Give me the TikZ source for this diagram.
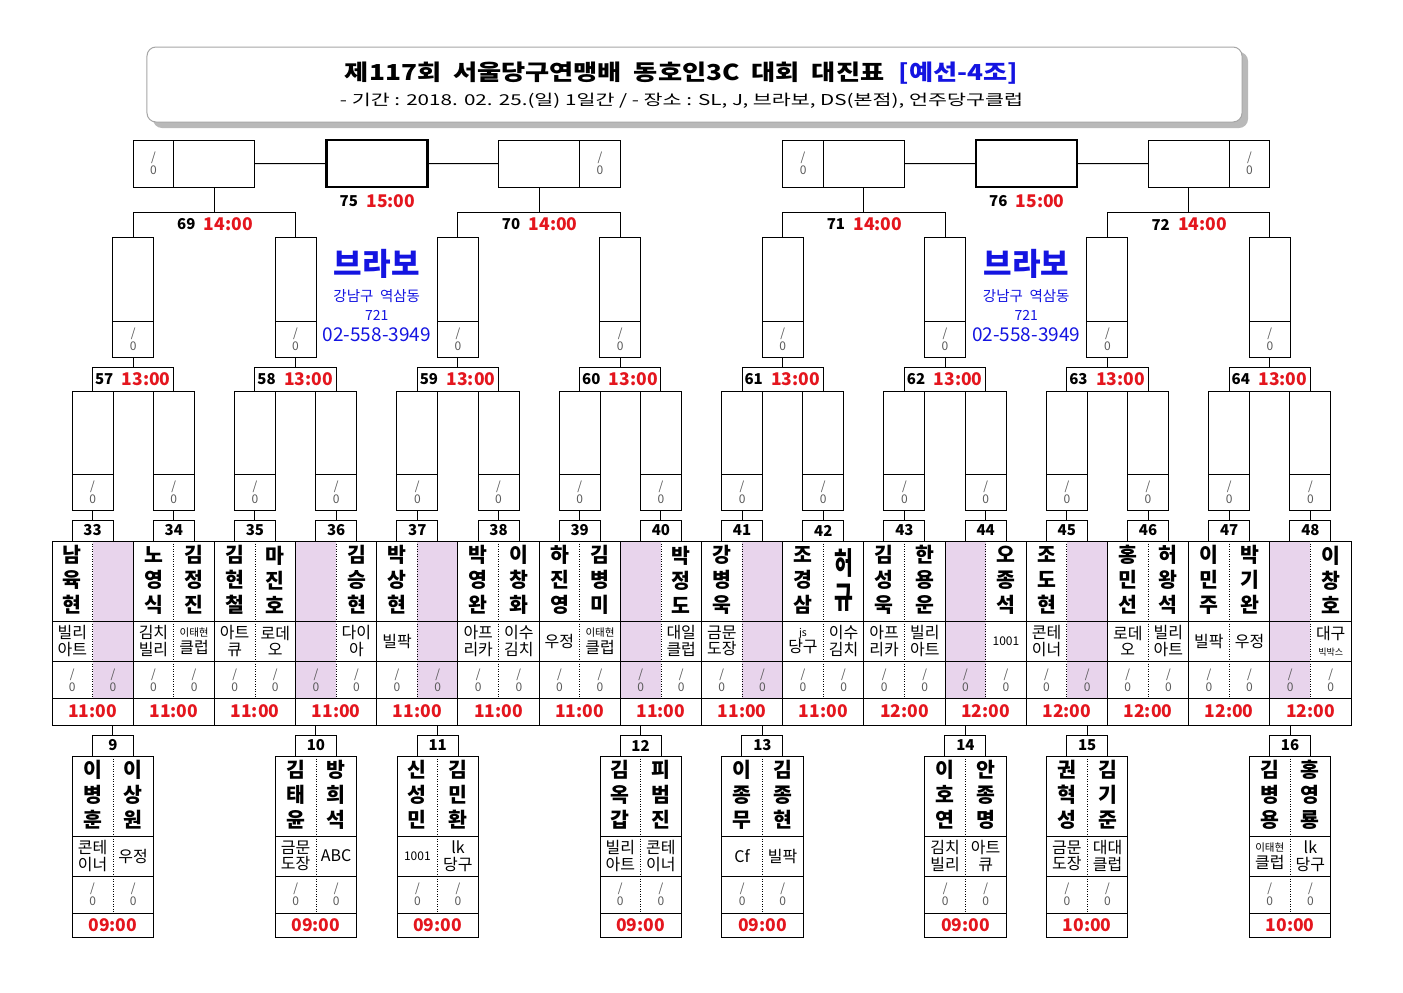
\documentclass[tikz,border=0pt]{standalone}
\usepackage{fontspec}
\setmainfont{Noto Sans CJK KR}
\usepackage{graphicx}
\usetikzlibrary{calc}
\definecolor{myred}{RGB}{228,22,30}
\definecolor{myblue}{RGB}{20,20,225}
\definecolor{mypink}{RGB}{232,212,236}
\definecolor{mygray}{RGB}{90,90,90}
\newcommand\fsz[2]{\fontsize{#1bp}{#2bp}\selectfont}
\newcommand\smtxt[1]{{\fsz{10.5}{11}#1}}
\newcommand\tinytxt[1]{{\fsz{9}{10}#1}}
\newcommand\vstr[1]{\scalebox{1}[1.5]{#1}}
\begin{document}
\begin{tikzpicture}[x=1bp,y=-1bp,
  ln/.style={line width=1bp},
  dotline/.style={line width=0.8bp, dash pattern=on 1bp off 1.5bp},
  bx/.style={draw, line width=1bp, inner sep=0pt, outer sep=0pt, fill=white},
  txt/.style={inner sep=0pt, outer sep=0pt, align=center},
  namef/.style={txt, font=\fsz{20.5}{25}\bfseries},
  clubf/.style={txt, font=\fsz{16}{16.5}},
  scoref/.style={txt, font=\fsz{12}{13}, text=mygray},
  timef/.style={txt, font=\fsz{17.5}{19}\bfseries, text=myred},
  numf/.style={txt, font=\fsz{15}{16}\bfseries},
  bluef/.style={txt, text=myblue}]
\useasboundingbox (0,0) rectangle (1403,992);
\fill[white] (0,0) rectangle (1403,992);

% ---------- title ----------
\fill[gray!55, rounded corners=9bp] (153,52) rectangle (1248,128);
\node[draw=gray!70, fill=white, rounded corners=9bp, minimum width=1095bp, minimum height=75bp, line width=1bp] (tbox) at (694.5,84.5) {};
\node[txt] (title) at (681.5,73) {\resizebox{673bp}{\height}{\fsz{22}{24}\bfseries 제117회\hspace{10bp}서울당구연맹배\hspace{10bp}동호인3C\hspace{10bp}대회\hspace{10bp}대진표\hspace{12bp}\textcolor{myblue}{[예선-4조]}}};
\node[txt] (subtitle) at (681.5,101) {\resizebox{683bp}{\height}{\fsz{15}{16}- 기간 : 2018. 02. 25.(일) 1일간 / - 장소 : SL, J, 브라보, DS(본점), 언주당구클럽}};

% ---------- round 2 boxes and 57-64 labels ----------
\foreach \j in {0,...,7}{
  \pgfmathsetmacro\bX{52+(2*\j+1)*81.1875}
  \pgfmathtruncatemacro\lnum{57+\j}
  \node[bx, minimum width=41bp, minimum height=120bp, anchor=north] (b\j) at (\bX,237) {};
  \draw[ln] (\bX-20.5,321) -- (\bX+20.5,321);
  \node[scoref] (bs\j) at (\bX,339) {/\\0};
  \node[bx, minimum width=81.19bp, minimum height=24bp, anchor=south] (L\j) at (\bX,391) {};
  \node[numf] (Ln\j) at (\bX-29,379.5) {\lnum};
  \node[timef] (Lt\j) at (\bX+13,379.5) {13:00};
  \draw[ln] (b\j.south) -- (L\j.north);
}

% ---------- round 1 boxes and 33-48 ----------
\foreach \k in {0,...,15}{
  \pgfmathsetmacro\cx{52+\k*81.1875+40.59}
  \pgfmathtruncatemacro\num{33+\k}
  \node[bx, minimum width=41bp, minimum height=119bp, anchor=north] (a\k) at (\cx,391) {};
  \draw[ln] (\cx-20.5,474) -- (\cx+20.5,474);
  \node[scoref] (as\k) at (\cx,492) {/\\0};
  \node[bx, numf, minimum width=41bp, minimum height=21bp, anchor=south] (n\k) at (\cx,541) {\num};
  \draw[ln] (a\k.south) -- (n\k.north);
}

% ---------- brackets 69-72 ----------
\foreach \p/\q/\r in {0/1/69, 2/3/70, 4/5/71, 6/7/72}{
  \draw[ln] (b\p.north) -- ++(0,-25) -| (b\q.north);
  \coordinate (k\r) at ($(b\p.north)!0.5!(b\q.north)+(0,-25)$);
  \node[numf] (kn\r) at ($(k\r)+(-28,12.5)$) {\r};
  \node[timef] (kt\r) at ($(k\r)+(14,12.5)$) {14:00};
}

% ---------- finals 75, 76 ----------
\foreach \g/\p/\q/\f in {0/69/70/75, 1/71/72/76}{
  \node[bx, minimum width=81bp, minimum height=47bp] (fL\g) at ($(k\p)+(0,-48.5)$) {};
  \node[bx, scoref, minimum width=40.6bp, minimum height=47bp, anchor=east] (fsL\g) at (fL\g.west) {/\\0};
  \node[bx, minimum width=81bp, minimum height=47bp] (fR\g) at ($(k\q)+(0,-48.5)$) {};
  \node[bx, scoref, minimum width=40.6bp, minimum height=47bp, anchor=west] (fsR\g) at (fR\g.east) {/\\0};
  \node[bx, line width=2.5bp, minimum width=101bp, minimum height=47bp] (C\g) at ($(fL\g)!0.5!(fR\g)$) {};
  \draw[ln] (fL\g.south) -- (k\p);
  \draw[ln] (fR\g.south) -- (k\q);
  \draw[ln] (fL\g.east) -- (C\g.west);
  \draw[ln] (C\g.east) -- (fR\g.west);
  \node[numf] (Cn\g) at ($(C\g.south)+(-28,14)$) {\f};
  \node[timef] (Ct\g) at ($(C\g.south)+(14,14)$) {15:00};
  \node[bluef, font=\fsz{31}{33}\bfseries] (br\g) at ($(C\g)+(0,100)$) {브라보};
  \node[bluef, font=\fsz{14.5}{16}] (ad\g) at ($(C\g)+(0,132.5)$) {강남구\ \ 역삼동};
  \node[bluef, font=\fsz{14}{16}] (ae\g) at ($(C\g)+(0,151.5)$) {721};
  \node[bluef, font=\fsz{19}{21}] (ph\g) at ($(C\g)+(0,171.5)$) {02-558-3949};
}

% ---------- main table ----------
\foreach \k/\nmA/\nmB/\clA/\clB/\pk/\tmv in {
 0/{남\\육\\현}/{}/{빌리\\아트}/{}/2/11:00,
 1/{노\\영\\식}/{김\\정\\진}/{김치\\빌리}/{\smtxt{이태현}\\클럽}/0/11:00,
 2/{김\\현\\철}/{마\\진\\호}/{아트\\큐}/{로데\\오}/0/11:00,
 3/{}/{김\\승\\현}/{}/{다이\\아}/1/11:00,
 4/{박\\상\\현}/{}/{빌팍}/{}/2/11:00,
 5/{박\\영\\완}/{이\\창\\화}/{아프\\리카}/{이수\\김치}/0/11:00,
 6/{하\\진\\영}/{김\\병\\미}/{우정}/{\smtxt{이태현}\\클럽}/0/11:00,
 7/{}/{박\\정\\도}/{}/{대일\\클럽}/1/11:00,
 8/{강\\병\\욱}/{}/{금문\\도장}/{}/2/11:00,
 9/{조\\경\\삼}/{}/{\smtxt{js}\\당구}/{이수\\김치}/0/11:00,
 10/{김\\성\\욱}/{한\\용\\운}/{아프\\리카}/{빌리\\아트}/0/12:00,
 11/{}/{오\\종\\석}/{}/{\fsz{12}{13}1001}/1/12:00,
 12/{조\\도\\현}/{}/{콘테\\이너}/{}/2/12:00,
 13/{홍\\민\\선}/{허\\왕\\석}/{로데\\오}/{빌리\\아트}/0/12:00,
 14/{이\\민\\주}/{박\\기\\완}/{빌팍}/{우정}/0/12:00,
 15/{}/{이\\창\\호}/{}/{대구\\\tinytxt{빅박스}}/1/12:00}{
  \pgfmathsetmacro\xl{52+\k*81.1875}
  \pgfmathsetmacro\cx{\xl+40.59}
  \pgfmathsetmacro\lcx{\xl+20.3}
  \pgfmathsetmacro\rcx{\xl+60.9}
  \ifnum\pk=1 \fill[mypink] (\xl,541) rectangle (\cx,698); \fi
  \ifnum\pk=2 \fill[mypink] (\cx,541) rectangle (\xl+81.19,698); \fi
  \node[namef] (nmL\k) at (\lcx,580) {\nmA};
  \node[namef] (nmR\k) at (\rcx,580) {\nmB};
  \node[clubf] (clL\k) at (\lcx,641) {\clA};
  \node[clubf] (clR\k) at (\rcx,641) {\clB};
  \node[scoref] (scL\k) at (\lcx,680) {/\\0};
  \node[scoref] (scR\k) at (\rcx,680) {/\\0};
  \node[timef] (tm\k) at (\cx,711.5) {\tmv};
  \draw[dotline] (\cx,541) -- (\cx,698);
}
% two-letter name (stretched)
\node[namef] (hA) at (52+9*81.1875+60.9,563) {\vstr{허}};
\node[namef] (hB) at (52+9*81.1875+60.9,597.5) {\vstr{규}};
\draw[ln] (52,541) rectangle (1351,725);
\foreach \yy in {621,661,698} \draw[ln] (52,\yy) -- (1351,\yy);
\foreach \k in {1,...,15} \draw[ln] ({52+\k*81.1875},541) -- ++(0,184);

% ---------- preliminary boxes 9-16 ----------
\foreach \qn/\bX/\nmA/\nmB/\clA/\clB/\tmv in {
 9/112.9/{이\\병\\훈}/{이\\상\\원}/{콘테\\이너}/{우정}/09:00,
 10/315.9/{김\\태\\윤}/{방\\희\\석}/{금문\\도장}/{ABC}/09:00,
 11/437.65/{신\\성\\민}/{김\\민\\환}/{\fsz{12}{13}1001}/{lk\\당구}/09:00,
 12/640.6/{김\\옥\\갑}/{피\\범\\진}/{빌리\\아트}/{콘테\\이너}/09:00,
 13/762.4/{이\\종\\무}/{김\\종\\현}/{Cf}/{빌팍}/09:00,
 14/965.4/{이\\호\\연}/{안\\종\\명}/{김치\\빌리}/{아트\\큐}/09:00,
 15/1087.2/{권\\혁\\성}/{김\\기\\준}/{금문\\도장}/{대대\\클럽}/10:00,
 16/1290.1/{김\\병\\용}/{홍\\영\\룡}/{\smtxt{이태현}\\클럽}/{lk\\당구}/10:00}{
  \coordinate (tb\qn) at (\bX,725);
  \node[bx, numf, minimum width=41bp, minimum height=21bp, anchor=north] (q\qn) at (\bX,735) {\qn};
  \draw[ln] (tb\qn) -- (q\qn.north);
  \node[bx, minimum width=81.2bp, minimum height=181bp, anchor=north] (Q\qn) at (\bX,756) {};
  \foreach \yy in {836,876,913} \draw[ln] (\bX-40.6,\yy) -- (\bX+40.6,\yy);
  \draw[dotline] (\bX,756) -- (\bX,913);
  \node[namef] (pL\qn) at (\bX-20.3,795) {\nmA};
  \node[namef] (pR\qn) at (\bX+20.3,795) {\nmB};
  \node[clubf] (pcL\qn) at (\bX-20.3,856) {\clA};
  \node[clubf] (pcR\qn) at (\bX+20.3,856) {\clB};
  \node[scoref] (psL\qn) at (\bX-20.3,894.5) {/\\0};
  \node[scoref] (psR\qn) at (\bX+20.3,894.5) {/\\0};
  \node[timef] (pt\qn) at (\bX,925) {\tmv};
}
\end{tikzpicture}
\end{document}
